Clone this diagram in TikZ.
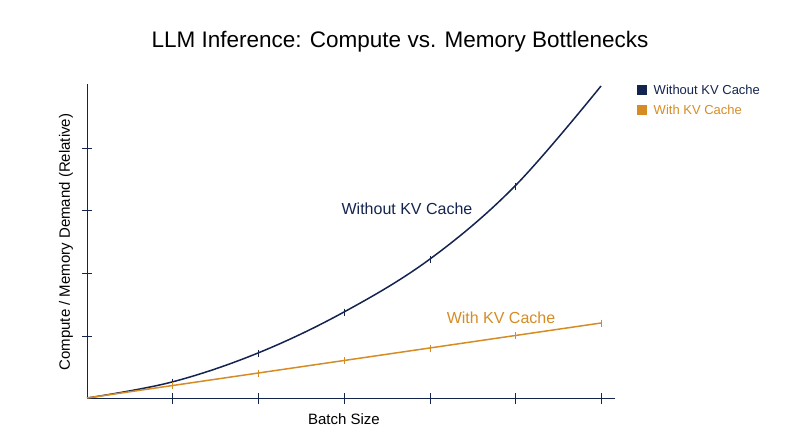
\documentclass[tikz,border=0pt]{standalone}
\usepackage{fontspec}
\setmainfont{Liberation Sans}
\usetikzlibrary{positioning}
\definecolor{navy}{HTML}{14244F}
\definecolor{amber}{HTML}{D68C25}
\begin{document}
\begin{tikzpicture}[x=1pt,y=-1pt,
        axis/.style={navy,line width=0.9pt},
        tick/.style={navy,line width=0.7pt},
        lbl/.style={font=\fontsize{16}{18}\selectfont},
        key/.style={minimum size=10pt,inner sep=0pt}]
    \useasboundingbox (0,0) rectangle (800,447);
    \node (title) at (400,42) {\fontsize{22.5}{26}\selectfont LLM Inference: Compute vs. Memory Bottlenecks};

    % axes
    \coordinate (o) at (87,398);
    \coordinate (xend) at (615,398);
    \coordinate (yend) at (87,84);
    \draw[axis] (xend) -- (o) -- (yend);
    \foreach \x in {172,258,344,430,515,601}
        \draw[tick] (\x,393) -- (\x,404);
    \foreach \y in {148,210,273,336}
        \draw[tick] (82,\y) -- (92,\y);
    \node[lbl,font=\fontsize{15}{17}\selectfont] (xlabel) at (344,419) {Batch Size};
    \node[lbl,font=\fontsize{15}{17}\selectfont,rotate=90] (ylabel) at (66,242) {Compute / Memory Demand (Relative)};

    % curves
    \draw[navy,line width=1.5pt] plot[smooth,tension=0.6] coordinates
        {(87,398) (172,382) (258,353) (344,312) (430,259) (515,186) (601,86)};
    \draw[amber,line width=1.5pt] (87,398) -- (601,323);
    \foreach \x/\y in {172/382,258/353,344/312,430/259,515/186}
        \draw[navy,line width=0.8pt] (\x,\y-3.5) -- (\x,\y+3.5);
    \foreach \x/\y in {172/385.6,258/373.1,344/360.5,430/348,515/335.6,601/323}
        \draw[amber,line width=0.8pt] (\x,\y-3.5) -- (\x,\y+3.5);
    \node[lbl,navy] (nokv) at (407,209) {Without KV Cache};
    \node[lbl,amber] (withkv) at (501,318) {With KV Cache};

    % legend
    \node[key,fill=navy] (k1) at (642,90) {};
    \node[right=3pt of k1,navy,font=\fontsize{13}{15}\selectfont] (k1t) {Without KV Cache};
    \node[key,fill=amber] (k2) at (642,110) {};
    \node[right=3pt of k2,amber,font=\fontsize{13}{15}\selectfont] (k2t) {With KV Cache};
\end{tikzpicture}
\end{document}
